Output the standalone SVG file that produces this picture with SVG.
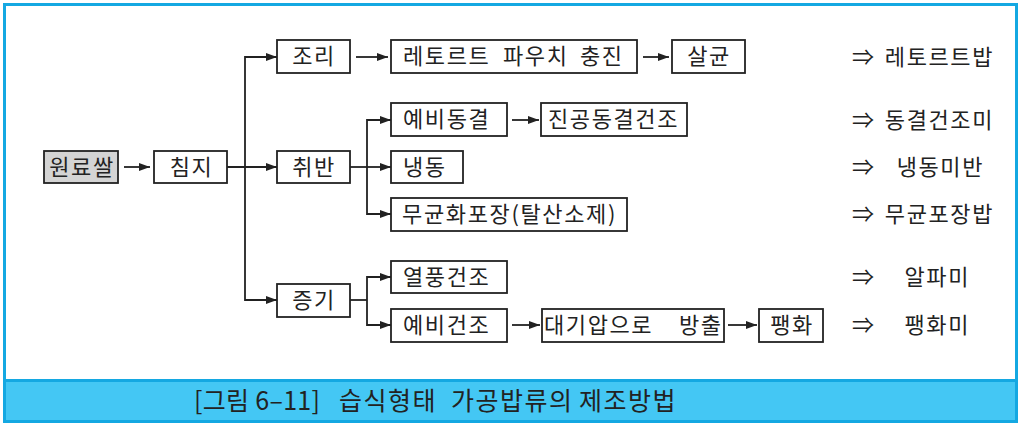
<svg xmlns="http://www.w3.org/2000/svg" width="1023" height="428" viewBox="0 0 1023 428">
<style>
.box{fill:#fff;stroke:#222;stroke-width:1.8}
.gray{fill:#d4d4d4}
.t{font-family:"Noto Sans CJK KR","Noto Sans",sans-serif;font-size:22px;fill:#222;letter-spacing:1.6px}
.c{text-anchor:middle}
.e{text-anchor:end}
.ln{fill:none;stroke:#222;stroke-width:1.8}
.cap{font-family:"Noto Sans CJK KR","Noto Sans",sans-serif;font-size:25px;fill:#222;letter-spacing:1.5px}
.capn{letter-spacing:0.3px}
</style>
<defs>
<marker id="ah" markerUnits="userSpaceOnUse" markerWidth="11" markerHeight="8" refX="11" refY="4" orient="auto">
<path d="M0,0 L11,4 L0,8 z" fill="#222"/>
</marker>
</defs>
<rect x="0" y="0" width="1023" height="428" fill="#fff"/>
<g id="frame">
<rect x="4.5" y="380" width="1012" height="41.5" fill="#44c7f4"/>
<line x1="4.5" y1="380.5" x2="1016.5" y2="380.5" stroke="#14a8e2" stroke-width="3"/>
<rect x="4.5" y="4.5" width="1012" height="417" fill="none" stroke="#14a8e2" stroke-width="3"/>
</g>
<g id="connectors">
<line class="ln" x1="124" y1="167" x2="150" y2="167" marker-end="url(#ah)"/>
<line class="ln" x1="227" y1="167" x2="277" y2="167" marker-end="url(#ah)"/>
<polyline class="ln" points="276,57 245,57 245,300 276,300"/>
<line class="ln" x1="245" y1="57" x2="277" y2="57" marker-end="url(#ah)"/>
<line class="ln" x1="245" y1="300" x2="277" y2="300" marker-end="url(#ah)"/>
<line class="ln" x1="356" y1="57" x2="388" y2="57" marker-end="url(#ah)"/>
<line class="ln" x1="643" y1="57" x2="669" y2="57" marker-end="url(#ah)"/>
<line class="ln" x1="350" y1="167" x2="367" y2="167"/>
<polyline class="ln" points="391,120 367,120 367,214 391,214"/>
<line class="ln" x1="367" y1="120" x2="391" y2="120" marker-end="url(#ah)"/>
<line class="ln" x1="367" y1="167" x2="391" y2="167" marker-end="url(#ah)"/>
<line class="ln" x1="367" y1="214" x2="391" y2="214" marker-end="url(#ah)"/>
<line class="ln" x1="512" y1="120" x2="539" y2="120" marker-end="url(#ah)"/>
<line class="ln" x1="350" y1="300" x2="367" y2="300"/>
<polyline class="ln" points="391,277 367,277 367,325 391,325"/>
<line class="ln" x1="367" y1="277" x2="391" y2="277" marker-end="url(#ah)"/>
<line class="ln" x1="367" y1="325" x2="391" y2="325" marker-end="url(#ah)"/>
<line class="ln" x1="512" y1="325" x2="540" y2="325" marker-end="url(#ah)"/>
<line class="ln" x1="728" y1="325" x2="757" y2="325" marker-end="url(#ah)"/>
</g>
<g id="n-wonryossal"><rect class="box gray" x="44" y="151" width="74" height="32"/><text class="t c" x="82" y="175">원료쌀</text></g>
<g id="n-chimji"><rect class="box" x="154" y="151" width="73" height="32"/><text class="t c" x="191.5" y="175">침지</text></g>
<g id="n-jori"><rect class="box" x="277" y="40" width="73" height="33"/><text class="t c" x="314" y="64">조리</text></g>
<g id="n-chwiban"><rect class="box" x="277" y="151" width="73" height="32"/><text class="t c" x="314" y="175">취반</text></g>
<g id="n-jeunggi"><rect class="box" x="277" y="284" width="73" height="33"/><text class="t c" x="314" y="308">증기</text></g>
<g id="n-retort"><rect class="box" x="391" y="40" width="246" height="33"/><text class="t" y="64"><tspan x="403">레토르트</tspan><tspan x="503">파우치</tspan><tspan x="580">충진</tspan></text></g>
<g id="n-salgyun"><rect class="box" x="672" y="40" width="73" height="33"/><text class="t c" x="709" y="64">살균</text></g>
<g id="n-yebidonggyeol"><rect class="box" x="391" y="103" width="116" height="33"/><text class="t" x="403" y="127">예비동결</text></g>
<g id="n-jingong"><rect class="box" x="541" y="103" width="146" height="33"/><text class="t" x="548" y="127">진공동결건조</text></g>
<g id="n-naengdong"><rect class="box" x="391" y="151" width="72" height="32"/><text class="t" x="403" y="175">냉동</text></g>
<g id="n-mugyun"><rect class="box" x="391" y="198" width="236" height="33"/><text class="t" x="402" y="222" textLength="215" lengthAdjust="spacing">무균화포장(탈산소제)</text></g>
<g id="n-yeolpung"><rect class="box" x="391" y="261" width="116" height="32"/><text class="t" x="403" y="285">열풍건조</text></g>
<g id="n-yebigeonjo"><rect class="box" x="391" y="309" width="116" height="33"/><text class="t" x="403" y="333">예비건조</text></g>
<g id="n-daegiap"><rect class="box" x="542" y="309" width="182" height="33"/><text class="t" y="333"><tspan x="544">대기압으로</tspan><tspan x="679">방출</tspan></text></g>
<g id="n-paenghwa"><rect class="box" x="759" y="309" width="64" height="33"/><text class="t c" x="792" y="333">팽화</text></g>
<g id="results">
<text class="t" x="852" y="65">⇒</text><text class="t e" x="994" y="65">레토르트밥</text>
<text class="t" x="852" y="128">⇒</text><text class="t e" x="994" y="128">동결건조미</text>
<text class="t" x="852" y="175">⇒</text><text class="t e" x="984" y="175">냉동미반</text>
<text class="t" x="852" y="222">⇒</text><text class="t e" x="994" y="222">무균포장밥</text>
<text class="t" x="852" y="285">⇒</text><text class="t e" x="970" y="285">알파미</text>
<text class="t" x="852" y="333">⇒</text><text class="t e" x="970" y="333">팽화미</text>
</g>
<g id="caption">
<text class="cap" y="410"><tspan class="capn" x="194">[그림 6–11]</tspan><tspan x="339">습식형태</tspan><tspan x="451">가공밥류의</tspan><tspan x="579">제조방법</tspan></text>
</g>
</svg>
